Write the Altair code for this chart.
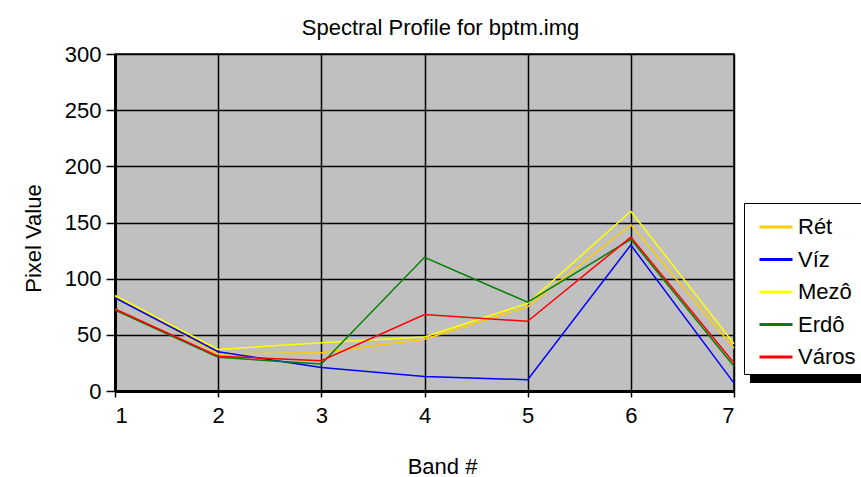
import altair as alt
import pandas as pd

bands = [1, 2, 3, 4, 5, 6, 7]
classes = ["Rét", "Víz", "Mezô", "Erdô", "Város"]
colors = ["#FFCC00", "#0000FF", "#FFFF00", "#008000", "#FF0000"]

ret = [84, 33, 34, 46, 75, 148, 38]
viz = [83, 35, 21, 13, 10, 130, 7]
mezo = [85, 37, 43, 48, 78, 160, 42]
erdo = [72, 30, 24, 119, 79, 135, 22]
varos = [73, 31, 27, 68, 62, 137, 25]

series = [ret, viz, mezo, erdo, varos]
rows = []
for name, vals in zip(classes, series):
    for b, v in zip(bands, vals):
        rows.append({"band": b, "value": v, "cls": name})
df = pd.DataFrame(rows)

FONT = "Liberation Sans, Arial, sans-serif"
FS = 22

lines = alt.Chart(df).mark_line(strokeWidth=1.5).encode(
    x=alt.X("band:Q",
            scale=alt.Scale(domain=[1, 7], nice=False, zero=False),
            axis=alt.Axis(values=bands, format="d", title="Band #",
                          tickSize=6, labelPadding=8, domainWidth=3,
                          titleX=327, titleY=82, titleBaseline="alphabetic",
                          titleAlign="center")),
    y=alt.Y("value:Q",
            scale=alt.Scale(domain=[0, 300], nice=False),
            axis=alt.Axis(values=[0, 50, 100, 150, 200, 250, 300], title="Pixel Value",
                          tickSize=9, labelPadding=5, domainWidth=3,
                          titleX=-75, titleY=184, titleAngle=-90,
                          titleBaseline="alphabetic", titleAlign="center")),
    color=alt.Color("cls:N",
                    scale=alt.Scale(domain=classes, range=colors),
                    legend=alt.Legend(title=None, orient="none", legendX=629, legendY=149,
                                      symbolType="stroke", symbolSize=1089,
                                      symbolStrokeWidth=3, rowPadding=3.5,
                                      labelOffset=4, symbolOffset=8, padding=6,
                                      fillColor="white", strokeColor="black",
                                      labelFontSize=FS, labelFont=FONT,
                                      labelColor="black")),
)

shadow = alt.Chart(df).mark_rect(color="black").encode(
    x=alt.value(635), x2=alt.value(760), y=alt.value(157), y2=alt.value(329)
)

chart = alt.layer(shadow, lines).properties(
    width=619, height=337,
    background="white",
    title=alt.TitleParams("Spectral Profile for bptm.img", fontSize=FS, font=FONT,
                          fontWeight="normal", color="black", anchor="middle",
                          dx=16, offset=3),
    autosize=alt.AutoSizeParams(type="none"),
    padding={"left": 115, "top": 54, "right": 127, "bottom": 86},
).configure_view(
    fill="#C0C0C0", stroke="black", strokeWidth=1.5
).configure_axis(
    grid=True, gridColor="black", gridWidth=1.5, gridOpacity=1,
    domainColor="black", tickColor="black", tickWidth=1.5,
    labelFont=FONT, labelFontSize=FS, labelColor="black",
    titleFont=FONT, titleFontSize=FS, titleColor="black", titleFontWeight="normal",
)

chart.save("out.html", embed_options={"renderer": "svg", "actions": False})
